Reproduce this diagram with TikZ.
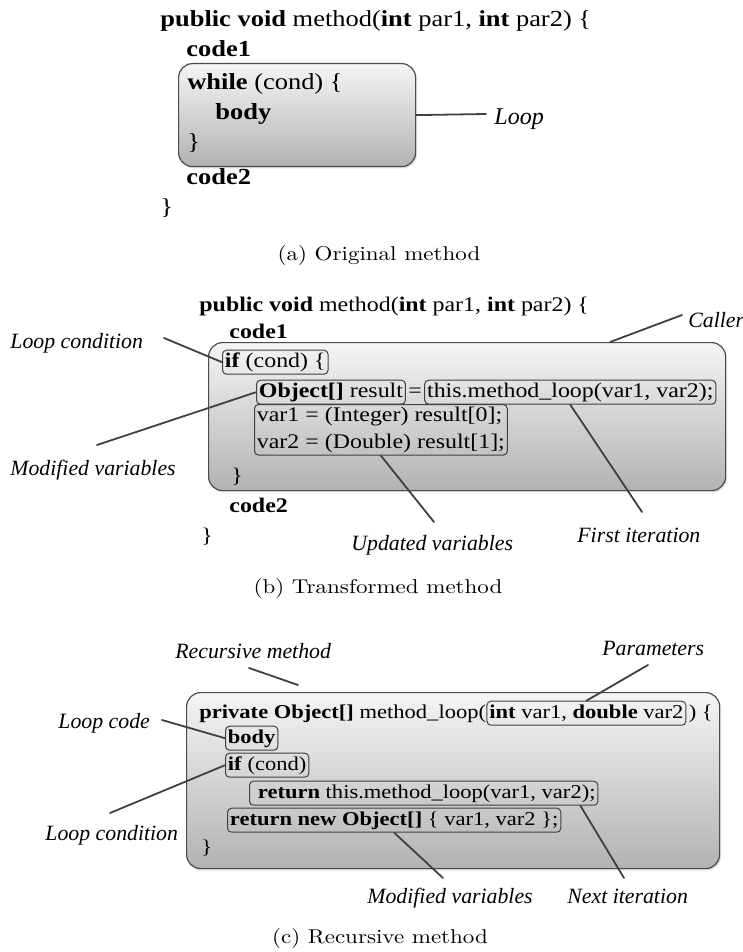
\documentclass[tikz,border=0pt]{standalone}
\usepackage{fontspec}
\usepackage{tikz}
\usetikzlibrary{shadows}
\newfontfamily\codefont[FakeStretch=1.15]{Liberation Serif}
\newfontfamily\notefont{Liberation Serif}
\newfontfamily\capfont[FakeStretch=1.15]{lmroman10-regular.otf}

\tikzset{
  bigbox/.style={draw=black!70, line width=0.6pt, rounded corners=7pt, top color=black!4, bottom color=black!30,
    drop shadow={shadow xshift=0.7pt, shadow yshift=-0.9pt, opacity=0.25}, anchor=north west},
  frame/.style={draw=black!75, line width=0.5pt, rounded corners=2pt, inner sep=1.2pt},
  tbox/.style={frame, anchor=base west, text height=0.72em, text depth=0.24em},
  code/.style={inner sep=0pt, anchor=base west},
  note/.style={font=\notefont\itshape\fontsize{10.9}{12}\selectfont, inner sep=0pt, anchor=base west},
  conn/.style={draw=black!75, line width=0.9pt},
  capt/.style={font=\capfont\fontsize{10}{12}\selectfont}
}

\begin{document}
\begin{tikzpicture}[line cap=round,line join=round,x=0.5pt,y=-0.5pt]
\useasboundingbox (0,0) rectangle (743,952);

\begin{scope}[font=\codefont\fontsize{11.5}{14}\selectfont]
\node[code] (hdrA) at (160,27) {\textbf{public void} method(\textbf{int} par1, \textbf{int} par2) \{};
\node[code] (codeoneA) at (186,57) {\textbf{code1}};
\node[bigbox, minimum width=118.5pt, minimum height=51.5pt] (loopbox) at (178,63) {};
\node[code] (whileA) at (187,90) {\textbf{while} (cond) \{};
\node[code] (bodyA) at (215,120) {\textbf{body}};
\node[code] (closeA) at (187,150) {\}};
\node[code] (codetwoA) at (186,185) {\textbf{code2}};
\node[code] (endA) at (160,215) {\}};
\end{scope}
\node[note, font=\notefont\itshape\fontsize{12}{14}\selectfont] (loopl) at (494,125) {Loop};
\coordinate (loopend) at (486,114);
\draw[conn] (loopbox.east) -- (loopend);
\node[capt] (capA) at (379,255) {(a) Original method};

\begin{scope}[font=\codefont\fontsize{10.4}{13.5}\selectfont]
\node[code] (hdrB) at (199,311) {\textbf{public void} method(\textbf{int} par1, \textbf{int} par2) \{};
\node[code] (codeoneB) at (229,338) {\textbf{code1}};
\node[bigbox, minimum width=258.5pt, minimum height=74pt] (callbox) at (208,342) {};
\node[tbox] (ifB) at (222,367) {\textbf{if} (cond) \{};
\node[tbox] (objB) at (256,397) {\textbf{Object[]} result};
\node[code, inner sep=1pt] (eqB) at (objB.base east) {=};
\node[tbox] (callB) at (eqB.base east) {this.method\_loop(var1, var2);};
\node[frame, anchor=north west, align=left] (varsB) at (254,404) {var1 = (Integer) result[0];\\var2 = (Double) result[1];};
\node[code] (closeB) at (231,482) {\}};
\node[code] (codetwoB) at (229,512) {\textbf{code2}};
\node[code] (endB) at (201,542) {\}};
\end{scope}
\node[note] (callerl) at (688,327) {Caller};
\node[note] (loopcondB) at (10,348) {Loop condition};
\node[note] (modB) at (10,475) {Modified variables};
\node[note] (updB) at (351,550) {Updated variables};
\node[note] (firstB) at (577,542) {First iteration};
\coordinate (callend) at (682,315);
\coordinate (lcBend) at (164,338);
\coordinate (modBend) at (97,445);
\coordinate (updBend) at (434,522);
\coordinate (firstBend) at (642,512);
\draw[conn] ([xshift=71.5pt]callbox.north) -- (callend);
\draw[conn] (lcBend) -- (ifB.west);
\draw[conn] (modBend) -- (objB.west);
\draw[conn] (varsB.south) -- (updBend);
\draw[conn] (callB.south) -- (firstBend);
\node[capt] (capB) at (378,588) {(b) Transformed method};

\begin{scope}[font=\codefont\fontsize{9.8}{13.5}\selectfont]
\node[bigbox, minimum width=266.5pt, minimum height=88pt] (recbox) at (186,692) {};
\node[code] (sigC) at (199,718) {\textbf{private Object[]} method\_loop(};
\node[tbox] (paramsC) at (sigC.base east) {\textbf{int} var1, \textbf{double} var2};
\node[code, inner sep=1pt] (sigendC) at (paramsC.base east) {) \{};
\node[tbox] (bodyC) at (225,743) {\textbf{body}};
\node[tbox] (ifC) at (225,770) {\textbf{if} (cond)};
\node[tbox] (retC) at (249,798) {\hspace*{3pt}\textbf{return} this.method\_loop(var1, var2);};
\node[tbox] (retnewC) at (227,825) {\textbf{return new Object[]} \{ var1, var2 \};};
\node[code] (closeC) at (201,853) {\}};
\end{scope}
\node[note] (recl) at (175,658) {Recursive method};
\node[note] (paraml) at (602,655) {Parameters};
\node[note] (loopcodel) at (58,728) {Loop code};
\node[note] (loopcondC) at (45,840) {Loop condition};
\node[note] (modC) at (367,903) {Modified variables};
\node[note] (nextl) at (567,903) {Next iteration};
\coordinate (recend) at (249,668);
\coordinate (recpt) at (298,685);
\coordinate (paramend) at (648,665);
\coordinate (lcodeend) at (162,720);
\coordinate (lcCend) at (110,813);
\coordinate (modCend) at (443,878);
\coordinate (nextend) at (624,878);
\draw[conn] (recend) -- (recpt);
\draw[conn] (paramend) -- (paramsC.north);
\draw[conn] (lcodeend) -- (bodyC.west);
\draw[conn] (lcCend) -- (ifC.west);
\draw[conn] (retnewC.south) -- (modCend);
\draw[conn] ([xshift=-9pt]retC.south east) -- (nextend);
\node[capt] (capC) at (380,938) {(c) Recursive method};
\end{tikzpicture}
\end{document}
